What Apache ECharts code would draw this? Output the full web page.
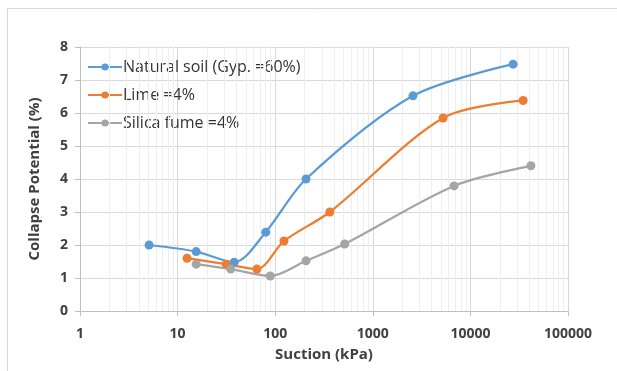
<!DOCTYPE html>
<html>
<head>
<meta charset="utf-8">
<script src="https://cdn.jsdelivr.net/npm/echarts@6/dist/echarts.min.js"></script>
<style>
  html, body { margin: 0; padding: 0; background: #fff; }
  #chart { width: 617px; height: 371px; }
</style>
</head>
<body>
<div id="chart"></div>
<script>
// values: suction (kPa) and collapse potential (%)
var natural = [[5.1, 2.0], [15.5, 1.8], [38, 1.48], [80, 2.39], [207, 4.0], [2580, 6.52], [27400, 7.48]];
var lime = [[12.5, 1.6], [31.5, 1.42], [65, 1.27], [123, 2.12], [363, 3.0], [5250, 5.85], [34700, 6.38]];
var silica = [[15.5, 1.42], [35, 1.27], [89, 1.06], [207, 1.52], [515, 2.03], [6800, 3.79], [41700, 4.4]];

var seriesNames = ["Natural soil (Gyp. =60%)", "Lime =4%", "Silica fume =4%"];
var colors = ["#5B9BD5", "#ED7D31", "#A5A5A5"];

// minor gridlines at 2..9 of each decade
var minorLines = [];
for (var d = 1; d < 100000; d *= 10) {
  for (var k = 2; k <= 9; k++) minorLines.push({ xAxis: k * d });
}

var chartDom = document.getElementById("chart");
var myChart = echarts.init(chartDom);

function lineSeries(name, data, color) {
  return {
    name: name,
    type: "line",
    data: data,
    smooth: 0.3,
    symbol: "circle",
    symbolSize: 9,
    lineStyle: { width: 2.25, color: color },
    itemStyle: { color: color },
    z: 5
  };
}

var series = [
  lineSeries(seriesNames[0], natural, colors[0]),
  lineSeries(seriesNames[1], lime, colors[1]),
  lineSeries(seriesNames[2], silica, colors[2]),
  {
    type: "line",
    data: [],
    silent: true,
    markLine: {
      silent: true,
      symbol: "none",
      label: { show: false },
      lineStyle: { color: "#eeeeee", width: 1, type: "solid" },
      data: minorLines
    },
    z: 1
  }
];

var labelFont = { fontFamily: "Open Sans", fontSize: 14, fontWeight: "bold", color: "#404040" };

var option = {
  animation: false,
  graphic: [{
    type: "rect",
    shape: { x: 7.5, y: 8.5, width: 700, height: 400 },
    style: { fill: "none", stroke: "#d9d9d9", lineWidth: 1 },
    silent: true
  }],
  grid: { left: 80, right: 49, top: 47, bottom: 60 },
  legend: {
    data: seriesNames,
    orient: "vertical",
    left: 87,
    top: 57,
    padding: 0,
    itemWidth: 34,
    itemHeight: 9,
    itemGap: 8,
    textStyle: { fontFamily: "Open Sans", fontSize: 16, lineHeight: 20, color: "#333333", padding: [0, 0, 0, -4] }
  },
  xAxis: {
    type: "log",
    logBase: 10,
    min: 1,
    max: 100000,
    name: "Suction (kPa)",
    nameLocation: "middle",
    nameGap: 36,
    nameTextStyle: { fontFamily: "Open Sans", fontSize: 15, fontWeight: "bold", color: "#404040" },
    axisLine: { lineStyle: { color: "#bfbfbf" } },
    axisTick: { show: true, length: 5, lineStyle: { color: "#bfbfbf" } },
    axisLabel: Object.assign({ margin: 16, formatter: function (v) { return String(v); } }, labelFont),
    splitLine: { show: true, lineStyle: { color: "#d9d9d9" } }
  },
  yAxis: {
    type: "value",
    min: 0,
    max: 8,
    interval: 1,
    name: "Collapse Potential (%)",
    nameLocation: "middle",
    nameGap: 38,
    nameTextStyle: { fontFamily: "Open Sans", fontSize: 15, fontWeight: "bold", color: "#404040" },
    axisLine: { show: true, lineStyle: { color: "#bfbfbf" } },
    axisTick: { show: true, length: 5, lineStyle: { color: "#bfbfbf" } },
    axisLabel: Object.assign({ margin: 12 }, labelFont),
    splitLine: { show: true, lineStyle: { color: "#d9d9d9" } }
  },
  series: series
};

option && myChart.setOption(option);
</script>
</body>
</html>
